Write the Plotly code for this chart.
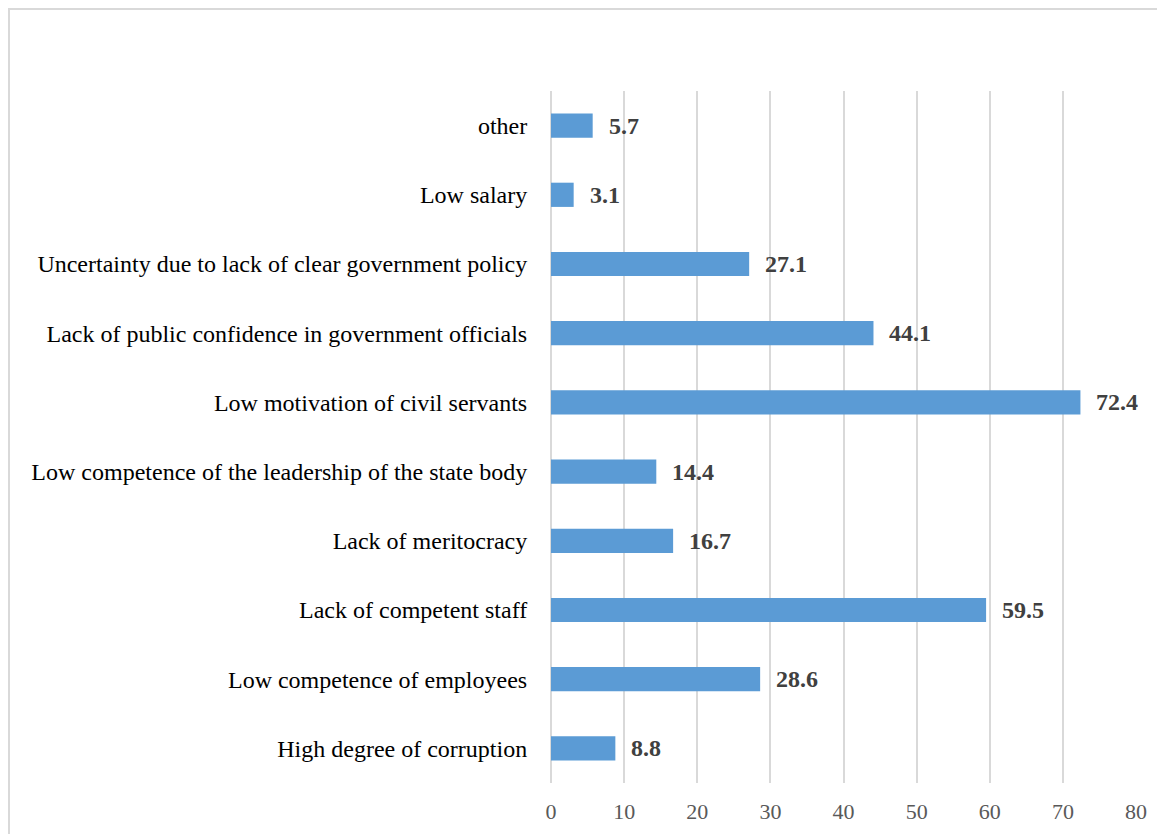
import plotly.graph_objects as go

categories = [
    "High degree of corruption",
    "Low competence of employees",
    "Lack of competent staff",
    "Lack of meritocracy",
    "Low competence of the leadership of the state body",
    "Low motivation of civil servants",
    "Lack of public confidence in government officials",
    "Uncertainty due to lack of clear government policy",
    "Low salary",
    "other",
]
values = [8.8, 28.6, 59.5, 16.7, 14.4, 72.4, 44.1, 27.1, 3.1, 5.7]
tick_vals = [0, 10, 20, 30, 40, 50, 60, 70, 80]

FONT = "Liberation Serif, Times New Roman, serif"

L, R, T, B = 543, 37, 83, 59
W, H = 1165, 834
pw = W - L - R
ph = H - T - B

fig = go.Figure()
fig.add_trace(go.Bar(
    y=categories, x=values, orientation="h",
    marker=dict(color="#5b9bd5", line=dict(width=0)),
    width=0.35,
    hoverinfo="skip",
))

for c, v in zip(categories, values):
    fig.add_annotation(
        x=v, y=c, text=f"<b>{v}</b>", showarrow=False,
        xanchor="left", xshift=14,
        font=dict(family=FONT, size=24, color="#404040"),
    )

fig.add_shape(type="rect", xref="paper", yref="paper",
              x0=(1 - L) / pw, x1=(W + 20 - L) / pw,
              y0=-(B + 20) / ph, y1=1 + (T - 1) / ph,
              line=dict(color="#d9d9d9", width=2), layer="below")

fig.update_layout(
    width=W, height=H,
    margin=dict(l=L, r=R, t=T, b=B),
    paper_bgcolor="white", plot_bgcolor="white",
    showlegend=False,
    xaxis=dict(
        range=[0, 80], tickvals=tick_vals, showgrid=True,
        gridcolor="#d9d9d9", gridwidth=1.5, zeroline=True,
        zerolinecolor="#d9d9d9", zerolinewidth=1.5,
        ticks="outside", ticklen=9, tickcolor="rgba(0,0,0,0)",
        tickfont=dict(family=FONT, size=22, color="#595959"),
        fixedrange=True,
    ),
    yaxis=dict(
        categoryorder="array", categoryarray=categories,
        showgrid=False, zeroline=False, showline=False,
        ticks="outside", ticklen=18, tickcolor="rgba(0,0,0,0)",
        tickfont=dict(family=FONT, size=24, color="#000000"),
        fixedrange=True,
    ),
)

fig.write_html("out.html")
